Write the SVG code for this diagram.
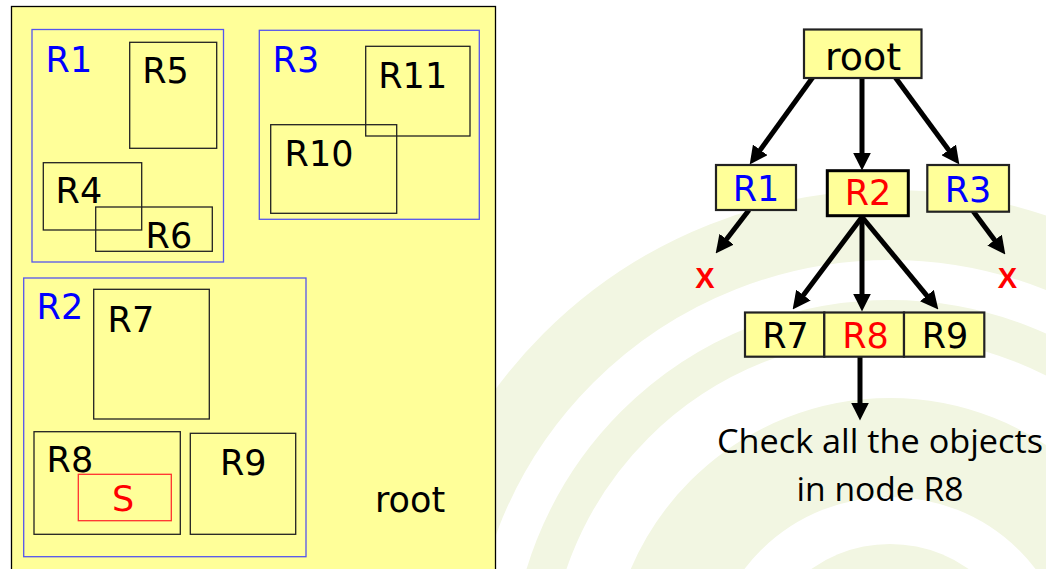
<svg xmlns="http://www.w3.org/2000/svg" width="1046" height="569" viewBox="0 0 1046 569">
<defs>
<style>
.lbl{font-family:"DejaVu Sans",Verdana,sans-serif;font-size:35px;fill:#000}
.blue{fill:#0000ff}
.red{fill:#ff0000}
.mbr{fill:none;stroke:#222;stroke-width:1.3}
.mbrb{fill:none;stroke:#5555ee;stroke-width:1.3}
.mbrs{fill:none;stroke:#ff3030;stroke-width:1.3}
.node{fill:#ffff99;stroke:#222;stroke-width:2.2}
.node2{fill:#ffff99;stroke:#000;stroke-width:3}
.tl{font-family:"DejaVu Sans",Verdana,sans-serif;font-size:35px;text-anchor:middle}
.x{font-family:"Liberation Sans",Arial,sans-serif;font-weight:bold;font-size:29px;fill:#ff0000;text-anchor:middle}
.note{font-family:"Open Sans","Noto Sans",sans-serif;font-size:32px;fill:#000;text-anchor:middle}
.edge{stroke:#000;stroke-width:5;fill:none;marker-end:url(#ah)}
.ring{fill:none;stroke:#f2f6e2}
</style>
<marker id="ah" markerUnits="userSpaceOnUse" markerWidth="18" markerHeight="18" viewBox="0 0 17 17" refX="7" refY="8.5" orient="auto">
<path d="M0,0 L17,8.5 L0,17 z" fill="#000"/>
</marker>
</defs>
<rect x="0" y="0" width="1046" height="569" fill="#ffffff"/>
<g id="background">
<circle cx="890" cy="680" r="136" fill="#f2f6e2"/>
<circle class="ring" cx="890" cy="680" r="232.5" stroke-width="99"/>
<circle class="ring" cx="890" cy="680" r="361" stroke-width="38"/>
<circle class="ring" cx="890" cy="680" r="455" stroke-width="70"/>
</g>
<g id="space">
<rect x="11.5" y="6.5" width="484" height="580" fill="#ffff99" stroke="#000" stroke-width="1.3"/>
<g id="mbr-R1"><rect class="mbrb" x="32" y="29.5" width="191.5" height="232.5"/><text class="lbl blue" x="45.6" y="72">R1</text></g>
<g id="mbr-R5"><rect class="mbr" x="129.7" y="42.3" width="87" height="106"/><text class="lbl" x="142.3" y="83">R5</text></g>
<g id="mbr-R4"><rect class="mbr" x="43.3" y="162.7" width="98.4" height="67.3"/><text class="lbl" x="55.6" y="203">R4</text></g>
<g id="mbr-R6"><rect class="mbr" x="95.7" y="207" width="116.6" height="44.3"/><text class="lbl" x="145.6" y="248">R6</text></g>
<g id="mbr-R3"><rect class="mbrb" x="259.3" y="30.3" width="220" height="189"/><text class="lbl blue" x="272.6" y="72">R3</text></g>
<g id="mbr-R11"><rect class="mbr" x="365.7" y="46.3" width="104.3" height="89.7"/><text class="lbl" x="378.3" y="88">R11</text></g>
<g id="mbr-R10"><rect class="mbr" x="270.7" y="124.7" width="126" height="88.6"/><text class="lbl" x="284.6" y="165.7">R10</text></g>
<g id="mbr-R2"><rect class="mbrb" x="23.7" y="278" width="282.3" height="278.7"/><text class="lbl blue" x="36.6" y="319">R2</text></g>
<g id="mbr-R7"><rect class="mbr" x="93.7" y="289.3" width="115.6" height="129.7"/><text class="lbl" x="107.6" y="331.7">R7</text></g>
<g id="mbr-R8"><rect class="mbr" x="34" y="431.7" width="146.3" height="102.6"/><text class="lbl" x="46.6" y="471.7">R8</text></g>
<g id="mbr-S"><rect class="mbrs" x="78.3" y="474.3" width="93" height="46.4"/><text class="lbl red" x="112" y="510.7">S</text></g>
<g id="mbr-R9"><rect class="mbr" x="190.3" y="433.3" width="105.4" height="101"/><text class="lbl" x="220" y="475">R9</text></g>
<text class="lbl" x="375" y="511.7">root</text>
</g>
<g id="connectors">
<line class="edge" x1="813" y1="77" x2="755.9" y2="155.9"/>
<line class="edge" x1="862" y1="78" x2="862" y2="160"/>
<line class="edge" x1="895" y1="77" x2="953.1" y2="155.9"/>
<line class="edge" x1="749" y1="210" x2="722.1" y2="245.1"/>
<line class="edge" x1="973" y1="211" x2="999" y2="246"/>
<line class="edge" x1="862" y1="217" x2="799" y2="301"/>
<line class="edge" x1="862" y1="217" x2="862" y2="301"/>
<line class="edge" x1="862" y1="217" x2="931.6" y2="301.3"/>
<line class="edge" x1="860" y1="357" x2="860" y2="410"/>
</g>
<g id="node-root"><rect class="node" x="804" y="29.5" width="117.5" height="48.5"/><text class="tl" x="863" y="70" style="font-size:38px">root</text></g>
<g id="node-R1"><rect class="node" x="716" y="165" width="80" height="45"/><text class="tl blue" x="756" y="201">R1</text></g>
<g id="node-R2"><rect class="node2" x="827.3" y="170.7" width="81" height="45"/><text class="tl red" x="868" y="205">R2</text></g>
<g id="node-R3"><rect class="node" x="927.3" y="165" width="81.7" height="46.7"/><text class="tl blue" x="968" y="202">R3</text></g>
<g id="node-R7"><rect class="node" x="745" y="312.5" width="79.3" height="44.2"/><text class="tl" x="785.5" y="348">R7</text></g>
<g id="node-R8"><rect class="node" x="824.3" y="312.5" width="79.7" height="44.2"/><text class="tl red" x="865.5" y="348">R8</text></g>
<g id="node-R9"><rect class="node" x="904" y="312.5" width="80.3" height="44.2"/><text class="tl" x="945" y="348">R9</text></g>
<g id="x-left"><text class="x" x="705" y="288">X</text></g>
<g id="x-right"><text class="x" x="1007.5" y="288">X</text></g>
<g id="note">
<text class="note" x="880" y="453.3" textLength="326" lengthAdjust="spacingAndGlyphs">Check all the objects</text>
<text class="note" x="880" y="500.7" textLength="167" lengthAdjust="spacingAndGlyphs">in node R8</text>
</g>
</svg>
